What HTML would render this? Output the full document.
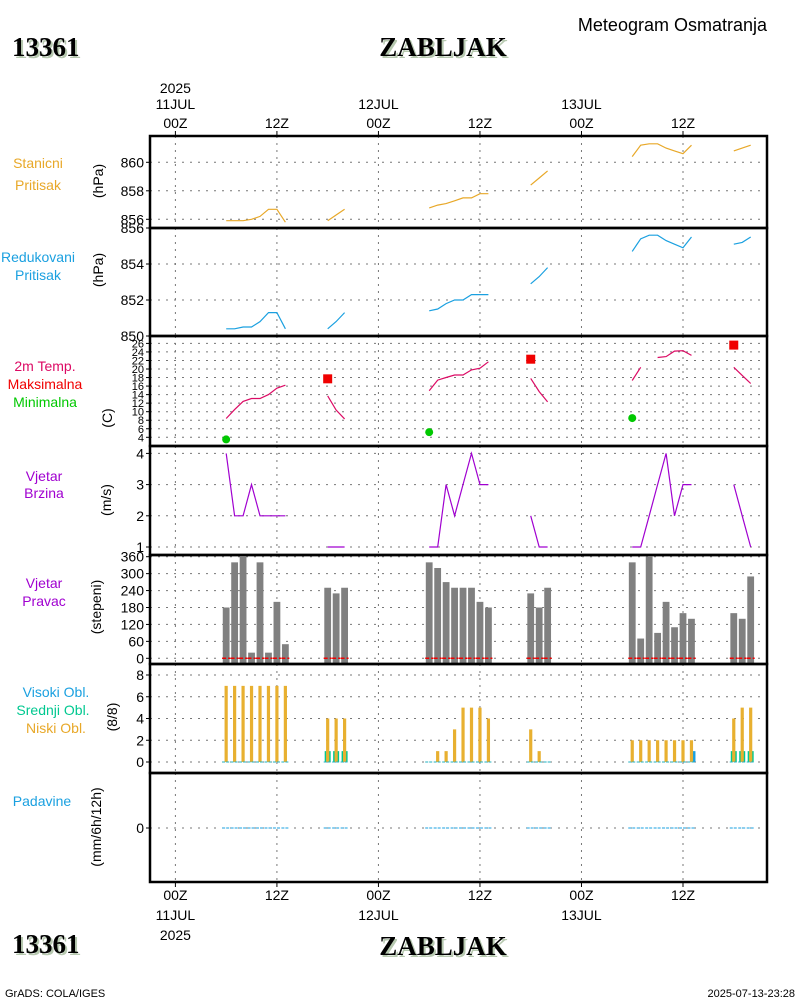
<!DOCTYPE html>
<html><head><meta charset="utf-8"><style>
html,body{margin:0;padding:0;background:#fff;}
svg{display:block;font-family:"Liberation Sans",sans-serif;}
.tl{font-size:14px;fill:#000;}
</style></head><body>
<svg id="chart" width="800" height="1000" viewBox="0 0 800 1000" xmlns="http://www.w3.org/2000/svg">
<rect x="0" y="0" width="800" height="1000" fill="#fff"/>
<g font-family="Liberation Serif, serif" font-weight="bold" font-size="27">
<text x="14" y="58" fill="#b7c9b0">13361</text><text x="12" y="56" fill="#000">13361</text>
<text x="445" y="58" fill="#b7c9b0" text-anchor="middle">ZABLJAK</text><text x="443" y="56" fill="#000" text-anchor="middle">ZABLJAK</text>
</g>
<text x="767" y="31" font-size="18" text-anchor="end">Meteogram Osmatranja</text>
<g font-family="Liberation Serif, serif" font-weight="bold" font-size="27">
<text x="14" y="955" fill="#b7c9b0">13361</text><text x="12" y="953" fill="#000">13361</text>
<text x="445" y="957" fill="#b7c9b0" text-anchor="middle">ZABLJAK</text><text x="443" y="955" fill="#000" text-anchor="middle">ZABLJAK</text>
</g>
<text x="5" y="997" font-size="11">GrADS: COLA/IGES</text>
<text x="795" y="997" font-size="11" text-anchor="end">2025-07-13-23:28</text>
<g id="grid"></g>
<g id="marks"></g>
<g id="axes"></g>
</svg>
<script>
// ---- data (hour offsets from 2025-07-11 00Z) ----
const hours = [6,7,8,9,10,11,12,13, 18,19,20, 30,31,32,33,34,35,36,37, 42,43,44, 54,55,56,57,58,59,60,61, 66,67,68];
const segId = [0,0,0,0,0,0,0,0, 1,1,1, 2,2,2,2,2,2,2,2, 3,3,3, 4,4,4,4,4,4,4,4, 5,5,5];
const stationPressure = [855.9,855.9,855.9,856.0,856.2,856.7,856.7,855.8, 855.9,856.3,856.7, 856.8,857.0,857.1,857.3,857.5,857.5,857.8,857.8, 858.4,858.9,859.4, 860.4,861.2,861.3,861.3,861.0,860.8,860.6,861.2, 860.8,861.0,861.2];
const reducedPressure = [850.4,850.4,850.5,850.5,850.8,851.3,851.3,850.4, 850.4,850.8,851.3, 851.4,851.5,851.8,852.0,852.0,852.3,852.3,852.3, 852.9,853.3,853.8, 854.7,855.4,855.6,855.6,855.3,855.1,854.9,855.5, 855.1,855.2,855.5];
const temperature = [8.4,10.5,12.4,13.1,13.1,14.0,15.5,16.2, 13.7,10.4,8.3, 14.9,17.4,18.0,18.6,18.6,19.8,20.2,21.7, 17.8,14.7,12.3, 17.3,20.4,null,22.7,22.9,24.2,24.3,23.2, 20.4,18.5,16.6];
const windSpeed = [4,2,2,3,2,2,2,2, 1,1,1, 1,1,3,2,3,4,3,3, 2,1,1, 1,1,2,3,4,2,3,3, 3,2,1];
const windDir = [180,340,360,20,340,20,200,50, 250,230,250, 340,320,270,250,250,250,200,180, 230,180,250, 340,70,360,90,200,110,160,140, 160,140,290];
const lowCloud = [7,7,7,7,7,7,7,7, 4,4,4, 0,1,1,3,5,5,5,4, 3,1,0, 2,2,2,2,2,2,2,2, 4,5,5];
const midCloud = [0,0,0,0,0,0,0,0, 1,1,1, 0,0,0,0,0,0,0,0, 0,0,0, 0,0,0,0,0,0,0,0, 1,1,1];
const highCloud = [0,0,0,0,0,0,0,0, 0,0,0, 0,0,0,0,0,0,0,0, 0,0,0, 0,0,0,0,0,0,0,1, 0,0,0];
const precip = [0,0,0,0,0,0,0,0, 0,0,0, 0,0,0,0,0,0,0,0, 0,0,0, 0,0,0,0,0,0,0,0, 0,0,0];
const maxTempHours = [18,42,66];
const maxTemp = [17.7,22.3,25.6];
const minTempHours = [6,30,54];
const minTemp = [3.5,5.2,8.5];
const timeTicks = [0,12,24,36,48,60];
const timeLabels = ["00Z","12Z","00Z","12Z","00Z","12Z"];
const dateLabels = ["11JUL","","12JUL","","13JUL",""];

const NS="http://www.w3.org/2000/svg";
const X0=150, X1=767;
const xOf = h => 175.4 + h*8.46;
function el(parent,tag,attrs,text){const e=document.createElementNS(NS,tag);for(const k in attrs)e.setAttribute(k,attrs[k]);if(text!==undefined)e.textContent=text;parent.appendChild(e);return e;}
const grid=document.getElementById('grid'), marks=document.getElementById('marks'), axes=document.getElementById('axes');
function lin(v0,v1,y0,y1){return v=>y0+(v-v0)*(y1-y0)/(v1-v0);}

// panels: top,bottom, scale
const P = [
 {top:136,bot:228,y:lin(856,860,219.3,162.3),ticks:[856,858,860]},
 {top:228,bot:336,y:lin(850,854,336,264),ticks:[850,852,854,856]},
 {top:336,bot:446,y:lin(4,26,437.3,343.4),ticks:[4,6,8,10,12,14,16,18,20,22,24,26]},
 {top:446,bot:555,y:lin(1,4,547,453.4),ticks:[1,2,3,4]},
 {top:555,bot:664,y:lin(0,360,658.3,556.7),ticks:[0,60,120,180,240,300,360]},
 {top:664,bot:773,y:lin(0,8,762,675),ticks:[0,2,4,6,8]},
 {top:773,bot:882,y:lin(0,1,828,800),ticks:[0]}
];
const names=["station-pressure","reduced-pressure","temperature","wind-speed","wind-direction","cloud-cover","precipitation"];
P.forEach((p,i)=>{
  const g=el(grid,'g',{});
  
  
  timeTicks.forEach(h=>{el(g,'line',{x1:xOf(h),x2:xOf(h),y1:p.top,y2:p.bot,stroke:'#777','stroke-width':1,'stroke-dasharray':'2,5'});});
  p.ticks.forEach(t=>{const y=p.y(t); if(y>p.top+1&&y<p.bot-1) el(g,'line',{x1:X0,x2:X1,y1:y,y2:y,stroke:'#777','stroke-width':1,'stroke-dasharray':'2,6'});});
  const a=el(axes,'g',{});
  
  
  const fs = i===2?11:14;
  p.ticks.forEach(t=>{const y=p.y(t);
    el(a,'line',{x1:X0-4,x2:X0,y1:y,y2:y,stroke:'#000'});
    el(a,'text',{x:X0-6,y:y+(i===2?4:5),'font-size':fs,'text-anchor':'end'},String(t));});
  el(a,'rect',{x:X0,y:p.top,width:X1-X0,height:p.bot-p.top,fill:'none',stroke:'#000','stroke-width':2.5});
});
// time axis labels
const ta=el(axes,'g',{});


timeTicks.forEach((h,i)=>{const x=xOf(h);
  el(ta,'line',{x1:x,x2:x,y1:131,y2:136,stroke:'#000'});
  el(ta,'line',{x1:x,x2:x,y1:882,y2:887,stroke:'#000'});
  el(ta,'text',{x:x,y:128,'text-anchor':'middle','class':'tl'},timeLabels[i]);
  el(ta,'text',{x:x,y:900,'text-anchor':'middle','class':'tl'},timeLabels[i]);
  if(dateLabels[i]){el(ta,'text',{x:x,y:109,'text-anchor':'middle','class':'tl'},dateLabels[i]);
    el(ta,'text',{x:x,y:920,'text-anchor':'middle','class':'tl'},dateLabels[i]);}
});
el(ta,'text',{x:xOf(0),y:93,'text-anchor':'middle','class':'tl'},"2025");
el(ta,'text',{x:xOf(0),y:940,'text-anchor':'middle','class':'tl'},"2025");

// left labels
const labels=[
 [38,168,'#e8a828','Stanicni'],[38,190,'#e8a828','Pritisak'],
 [38,262,'#1aa0e0','Redukovani'],[38,280,'#1aa0e0','Pritisak'],
 [45,371,'#dc0a64','2m Temp.'],[45,389,'#f00000','Maksimalna'],[45,407,'#00c800','Minimalna'],
 [44,481,'#a000d0','Vjetar'],[44,498,'#a000d0','Brzina'],
 [44,588,'#a000d0','Vjetar'],[44,606,'#a000d0','Pravac'],
 [56,697,'#1aa0e0','Visoki Obl.'],[53,715,'#00c890','Srednji Obl.'],[56,733,'#e8a828','Niski Obl.'],
 [42,806,'#1aa0e0','Padavine']];
labels.forEach(l=>{const t=el(axes,'text',{x:l[0],y:l[1],fill:l[2],'font-size':14,'text-anchor':'middle'},l[3]);
  
  });
const units=[[98,181,'(hPa)'],[98,270,'(hPa)'],[107,418,'(C)'],[106,500,'(m/s)'],[96,607,'(stepeni)'],[112,717,'(8/8)'],[96,827,'(mm/6h/12h)']];
units.forEach(u=>{const t=el(axes,'text',{x:u[0],y:u[1],'font-size':14,'text-anchor':'middle',transform:`rotate(-90 ${u[0]} ${u[1]})`,dy:5},u[2]);
  
  });

// series lines
function drawLine(vals,p,color,name){
  let d='',prevSeg=-1,prevNull=true;
  vals.forEach((v,i)=>{ if(v===null){prevNull=true;return;}
    const cmd=(segId[i]!==prevSeg||prevNull)?'M':'L';
    d+=cmd+xOf(hours[i]).toFixed(1)+','+p.y(v).toFixed(1)+' ';
    prevSeg=segId[i];prevNull=false;});
  const e=el(marks,'path',{d:d,fill:'none',stroke:color,'stroke-width':1.2});
  
  
}
drawLine(stationPressure,P[0],'#e8a828','station-pressure-line');
drawLine(reducedPressure,P[1],'#1aa0e0','reduced-pressure-line');
drawLine(temperature,P[2],'#dc0a64','temperature-line');
drawLine(windSpeed,P[3],'#a000d0','wind-speed-line');

maxTemp.forEach((v,i)=>{const r=el(marks,'rect',{x:xOf(maxTempHours[i])-4.5,y:P[2].y(v)-4.5,width:9,height:9,fill:'#f00000'});
  
  });
minTemp.forEach((v,i)=>{const c=el(marks,'circle',{cx:xOf(minTempHours[i]),cy:P[2].y(v),r:4,fill:'#00c800'});
  
  });

// wind direction bars
windDir.forEach((v,i)=>{const x=xOf(hours[i]);const y0=P[4].y(0),y=P[4].y(v);
  const r=el(marks,'rect',{x:x-3.4,y:y,width:6.8,height:664-y,fill:'#808080'});
  
  
  const l=el(marks,'line',{x1:x-4,x2:x+4,y1:y0,y2:y0,stroke:'#f00000','stroke-width':1.5,'stroke-dasharray':'4,2'});
  
  });

// clouds
hours.forEach((h,i)=>{const x=xOf(h);const y0=P[5].y(0);
  if(midCloud[i]>0){const r=el(marks,'rect',{x:x-3,y:P[5].y(midCloud[i]),width:6,height:y0-P[5].y(midCloud[i]),fill:'#00c890'});
    
    }
  if(highCloud[i]>0){const r=el(marks,'rect',{x:x-1,y:P[5].y(highCloud[i]),width:5,height:y0-P[5].y(highCloud[i]),fill:'#1aa0e0'});
    
    }
  if(lowCloud[i]>0){const r=el(marks,'rect',{x:x-1.6,y:P[5].y(lowCloud[i]),width:3.2,height:y0-P[5].y(lowCloud[i]),fill:'#e8b030'});
    
    }
  const b=el(marks,'line',{x1:x-4,x2:x+4,y1:y0,y2:y0,stroke:'#20b0c0','stroke-width':1,'stroke-dasharray':'3,1'});
  
  
  const pv=P[6].y(precip[i]);
  const pl=el(marks,'line',{x1:x-4,x2:x+4,y1:pv,y2:pv,stroke:'#1aa0e0','stroke-width':1,'stroke-dasharray':'3,1'});
  
  
});
</script>
</body></html>
